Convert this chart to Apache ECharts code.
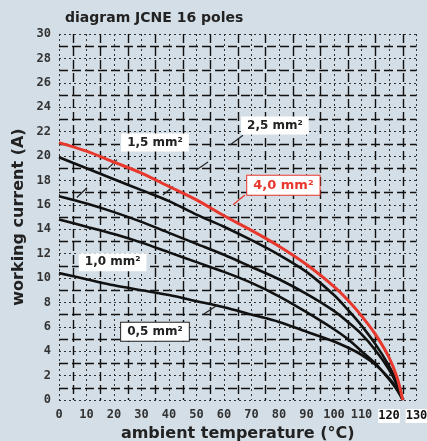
<!DOCTYPE html>
<html><head><meta charset="utf-8">
<script src="https://cdn.jsdelivr.net/npm/echarts@6/dist/echarts.min.js"></script>
<style>html,body{margin:0;padding:0;background:#d3dee6;} #c{width:427px;height:441px;}</style>
</head><body><div id="c"></div>
<script>
// ambient temperature (°C)
const temps = [0,10,20,30,40,50,60,70,80,90,100,105,110,115,120,123,125];
// working current (A) per conductor cross-section
const i40 = [21.1,20.4,19.5,18.6,17.5,16.4,15.1,13.9,12.6,11.1,9.3,8.2,6.9,5.4,3.5,1.8,0];
const i25 = [19.9,19.0,18.1,17.2,16.3,15.2,14.2,13.1,11.9,10.5,8.6,7.4,6.1,4.6,2.8,1.4,0];
const i15 = [16.7,16.1,15.4,14.6,13.7,12.8,11.9,10.9,9.9,8.7,7.3,6.4,5.4,4.1,2.5,1.2,0];
const i10 = [14.8,14.2,13.6,12.9,12.1,11.3,10.5,9.6,8.5,7.2,5.8,5.0,4.0,3.0,1.7,0.8,0];
const i05 = [10.4,9.9,9.4,9.0,8.6,8.1,7.6,7.0,6.4,5.6,4.8,4.3,3.7,2.9,1.8,0.9,0];
const seriesNames = ['4,0 mm²','2,5 mm²','1,5 mm²','1,0 mm²','0,5 mm²'];
const xTicks = [0,130,10];
const yTicks = [0,30,2];
// annotation anchors (data coords)
const labelAt = [[81.6,17.6],[78.5,22.5],[34.9,21.1],[19.5,11.3],[34.9,5.6]];
const leaders = [
  [[67.6,16.8],[63.3,16.0]],
  [[66.9,21.7],[62.2,20.9]],
  [[17.5,18.9],[21.1,19.7]],
  [[50.2,18.9],[54.2,19.5]],
  [[6.5,16.6],[10.2,17.4]],
  [[37.8,16.8],[41.5,17.5]],
  [[57.8,7.8],[52.4,7.0]]
];

const pts = arr => temps.map((t,i)=>[t,arr[i]]);
const chart = echarts.init(document.getElementById('c'));
const majorLine = {show:true, lineStyle:{color:'#333', width:1, type:[2,3]}};
const minorLine = {show:true, lineStyle:{color:'#111', width:1.4, type:[9,4]}};
const tickFont = {fontFamily:'DejaVu Sans Mono', fontWeight:'bold', fontSize:12, color:'#333'};
const mkLabel = (red, border) => ({
  show:true, position:'inside', fontFamily:'DejaVu Sans', fontWeight:'bold',
  fontSize: red?13:12, color: red?'#e8372c':'#222', backgroundColor:'#fff',
  padding:[3,6], borderColor: red?'#e8372c':(border?'#222':'transparent'), borderWidth: (red||border)?1:0
});
chart.setOption({
  animation:false,
  backgroundColor:'#d3dee6',
  title:{text:'diagram JCNE 16 poles', left:60, top:6,
    textStyle:{fontFamily:'DejaVu Sans', fontWeight:'bold', fontSize:14, color:'#222'}},
  grid:{left:59, right:10.5, top:34, bottom:41, containLabel:false, outerBoundsMode:'none'},
  xAxis:{type:'value', min:xTicks[0], max:xTicks[1], interval:xTicks[2],
    name:'ambient temperature (°C)', nameLocation:'middle', nameGap:26, nameMoveOverlap:false,
    nameTextStyle:{fontFamily:'DejaVu Sans', fontWeight:'bold', fontSize:16, color:'#222'},
    axisLine:{show:false}, axisTick:{show:false},
    axisLabel:Object.assign({margin:9, formatter:v=> v>=120 ? '{w|'+v+'}' : String(v),
      rich:{w:{backgroundColor:'#fff', color:'#111', fontFamily:'DejaVu Sans Mono', fontWeight:'bold', fontSize:12, padding:[1,0]}}}, tickFont),
    splitLine:majorLine, minorTick:{show:false, splitNumber:2}, minorSplitLine:minorLine},
  yAxis:{type:'value', min:yTicks[0], max:yTicks[1], interval:yTicks[2],
    name:'working current (A)', nameLocation:'middle', nameGap:32, nameMoveOverlap:false,
    nameTextStyle:{fontFamily:'DejaVu Sans', fontWeight:'bold', fontSize:16, color:'#222'},
    axisLine:{show:false}, axisTick:{show:false},
    axisLabel:Object.assign({margin:8}, tickFont),
    splitLine:majorLine, minorTick:{show:false, splitNumber:2}, minorSplitLine:minorLine},
  series:[
    {name:seriesNames[1], type:'line', data:pts(i25), smooth:0.3, symbol:'none', lineStyle:{color:'#111', width:2.6}},
    {name:seriesNames[2], type:'line', data:pts(i15), smooth:0.3, symbol:'none', lineStyle:{color:'#111', width:2.6}},
    {name:seriesNames[3], type:'line', data:pts(i10), smooth:0.3, symbol:'none', lineStyle:{color:'#111', width:2.6}},
    {name:seriesNames[4], type:'line', data:pts(i05), smooth:0.3, symbol:'none', lineStyle:{color:'#111', width:2.6}},
    {name:seriesNames[0], type:'line', data:pts(i40), smooth:0.3, symbol:'none', lineStyle:{color:'#e8372c', width:3}, z:5},
    {name:'annotations', type:'line', data:[], z:10,
      markLine:{silent:true, symbol:'none', label:{show:false},
        data: leaders.map((l,i)=>[{coord:l[0], lineStyle:{color: i===0?'#e8372c':'#222', width:1.2, type:'solid'}},{coord:l[1]}])},
      markPoint:{silent:true, symbol:'rect', symbolSize:1, itemStyle:{color:'transparent'},
        data: seriesNames.map((n,i)=>({coord:labelAt[i], value:n, label:Object.assign(mkLabel(i===0, i===4), {formatter:n})}))}
    }
  ]
});
</script></body></html>
